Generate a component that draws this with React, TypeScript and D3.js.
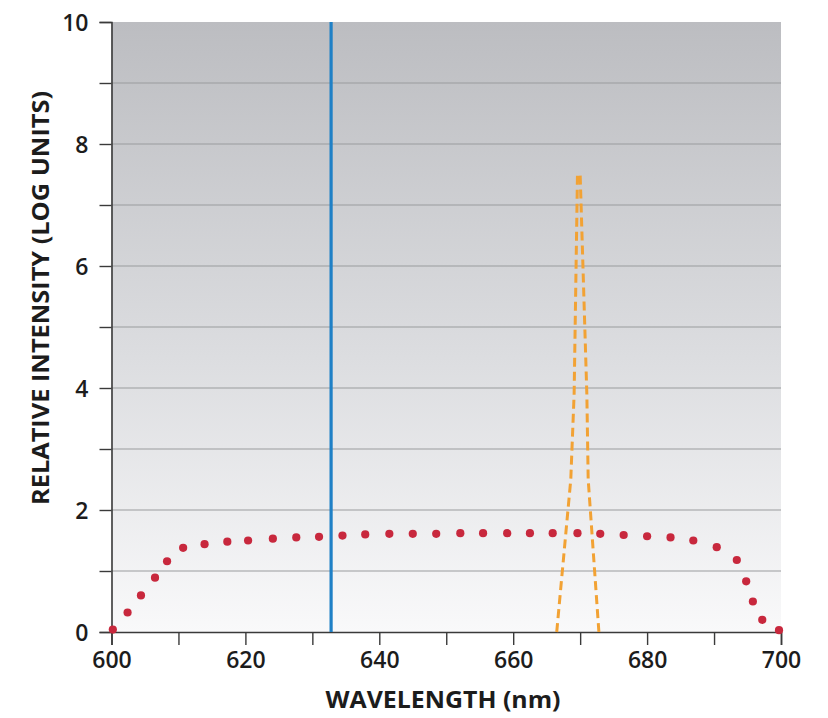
import { useEffect, useRef } from "react";
import * as d3 from "d3";

// red dotted curve (broadband source)
const dotWavelengths = [
  600.2, 602.4, 604.4, 606.5, 608.3, 610.7, 613.9, 617.3, 620.4, 624.1, 627.6,
  631.0, 634.5, 637.9, 641.5, 645.0, 648.5, 652.1, 655.5, 659.1, 662.5, 665.9,
  669.6, 673.0, 676.5, 680.0, 683.5, 686.9, 690.4, 693.4, 694.8, 695.8, 697.2,
  699.7,
];
const dotIntensity = [
  0.04, 0.32, 0.6, 0.89, 1.16, 1.38, 1.44, 1.48, 1.5, 1.53, 1.55, 1.56, 1.58,
  1.6, 1.61, 1.61, 1.61, 1.62, 1.62, 1.62, 1.62, 1.62, 1.62, 1.61, 1.59, 1.57,
  1.55, 1.5, 1.39, 1.18, 0.83, 0.5, 0.2, 0.03,
];

// orange dashed peak
const peakWavelengths = [666.5, 668.6, 669.1, 669.6, 670.0, 671.0, 671.2, 672.8];
const peakIntensity = [0, 2.5, 3.9, 7.5, 7.5, 3.9, 2.5, 0];

// blue laser line
const laserWavelength = 632.8;

const xTicks = [600, 610, 620, 630, 640, 650, 660, 670, 680, 690, 700];
const yTicks = [0, 1, 2, 3, 4, 5, 6, 7, 8, 9, 10];
const yLabels = [0, 2, 4, 6, 8, 10];

const width = 828;
const height = 718;
const margin = { top: 22, right: 47, bottom: 86, left: 111.5 };
const font = "'Open Sans', 'Liberation Sans', sans-serif";

const App = () => {
  const svgRef = useRef<SVGSVGElement>(null);

  useEffect(() => {
    const svg = d3.select(svgRef.current);
    svg.selectAll("*").remove();

    const x = d3
      .scaleLinear()
      .domain([600, 700])
      .range([margin.left, width - margin.right]);
    const y = d3
      .scaleLinear()
      .domain([0, 10])
      .range([height - margin.bottom, margin.top]);

    const defs = svg.append("defs");
    const grad = defs
      .append("linearGradient")
      .attr("id", "bg")
      .attr("x1", 0)
      .attr("y1", 0)
      .attr("x2", 0)
      .attr("y2", 1);
    grad.append("stop").attr("offset", "0%").attr("stop-color", "#bcbdc1");
    grad.append("stop").attr("offset", "55%").attr("stop-color", "#dcdde0");
    grad.append("stop").attr("offset", "100%").attr("stop-color", "#f9f9fa");

    svg
      .append("rect")
      .attr("x", x(600))
      .attr("y", y(10))
      .attr("width", x(700) - x(600))
      .attr("height", y(0) - y(10))
      .attr("fill", "url(#bg)");

    // grid lines
    svg
      .append("g")
      .selectAll("line")
      .data(yTicks.filter((d) => d > 0 && d < 10))
      .join("line")
      .attr("x1", x(600))
      .attr("x2", x(700))
      .attr("y1", (d) => y(d))
      .attr("y2", (d) => y(d))
      .attr("stroke", "#9a9b9e")
      .attr("stroke-width", 1.2);

    // y axis
    const yAxis = d3
      .axisLeft(y)
      .tickValues(yTicks)
      .tickSize(12)
      .tickFormat((d) => (yLabels.includes(+d) ? String(d) : ""));
    const gy = svg
      .append("g")
      .attr("transform", `translate(${x(600)},0)`)
      .call(yAxis);
    gy.select(".domain").attr("stroke", "#3a3a3a").attr("stroke-width", 1.6);
    gy.selectAll(".tick line").attr("stroke", "#3a3a3a").attr("stroke-width", 1.4);
    gy.selectAll(".tick text")
      .attr("x", -23)
      .attr("dy", "0.36em")
      .attr("fill", "#1c1c1c")
      .style("font-family", font)
      .style("font-weight", 600)
      .style("font-size", "23px");

    // x axis
    const xAxis = d3.axisBottom(x).tickValues(xTicks).tickSize(13)
      .tickFormat((d) => (+d % 20 === 0 ? String(d) : ""));
    const gx = svg
      .append("g")
      .attr("transform", `translate(0,${y(0)})`)
      .call(xAxis);
    gx.select(".domain").attr("stroke", "#3a3a3a").attr("stroke-width", 1.6);
    gx.selectAll(".tick line").attr("stroke", "#3a3a3a").attr("stroke-width", 1.4);
    gx.selectAll(".tick text")
      .attr("y", 20)
      .attr("dy", "0.71em")
      .attr("fill", "#1c1c1c")
      .style("font-family", font)
      .style("font-weight", 600)
      .style("font-size", "23px");

    // blue laser line
    svg
      .append("line")
      .attr("x1", x(laserWavelength))
      .attr("x2", x(laserWavelength))
      .attr("y1", y(10))
      .attr("y2", y(0))
      .attr("stroke", "#1f80c6")
      .attr("stroke-width", 3.2);

    // orange dashed peak
    const peakData = peakWavelengths.map((w, i) => [w, peakIntensity[i]]);
    const line = d3
      .line<number[]>()
      .x((d) => x(d[0]))
      .y((d) => y(d[1]));
    svg
      .append("path")
      .datum(peakData)
      .attr("d", line)
      .attr("fill", "none")
      .attr("stroke", "#f2a234")
      .attr("stroke-width", 3)
      .attr("stroke-dasharray", "9 5");

    // red dots
    svg
      .append("g")
      .selectAll("circle")
      .data(dotWavelengths.map((w, i) => [w, dotIntensity[i]]))
      .join("circle")
      .attr("cx", (d) => x(d[0]))
      .attr("cy", (d) => y(d[1]))
      .attr("r", 4.1)
      .attr("fill", "#c8283d");

    // axis titles
    svg
      .append("text")
      .attr("x", 443)
      .attr("y", 708)
      .attr("text-anchor", "middle")
      .attr("fill", "#1c1c1c")
      .attr("textLength", 235)
      .attr("lengthAdjust", "spacingAndGlyphs")
      .style("font-family", font)
      .style("font-weight", 700)
      .style("font-size", "24px")
      .text("WAVELENGTH (nm)");

    svg
      .append("text")
      .attr("transform", "translate(49,298) rotate(-90)")
      .attr("text-anchor", "middle")
      .attr("fill", "#1c1c1c")
      .attr("textLength", 414)
      .attr("lengthAdjust", "spacingAndGlyphs")
      .style("font-family", font)
      .style("font-weight", 700)
      .style("font-size", "23px")
      .text("RELATIVE INTENSITY (LOG UNITS)");
  }, []);

  return (
    <svg
      ref={svgRef}
      width={width}
      height={height}
      style={{ position: "fixed", left: 0, top: 0, background: "#ffffff" }}
    ></svg>
  );
};

export default App;
